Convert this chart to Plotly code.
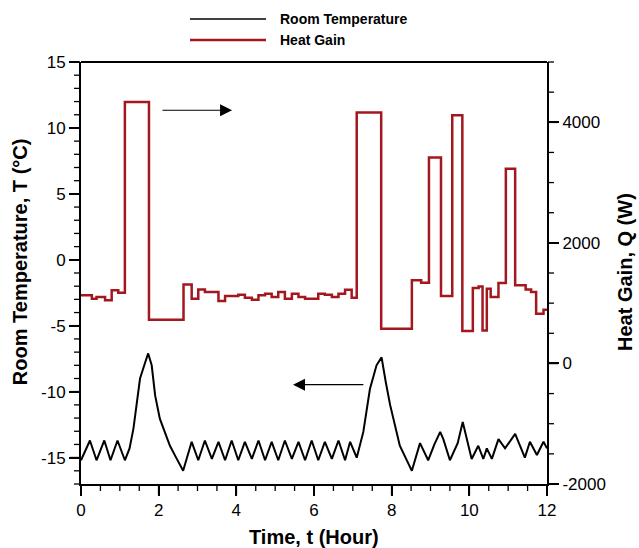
import plotly.graph_objects as go

# ---- Data ----
# Room temperature (°C) vs time (hour)
temp_t = [0.00, 0.23, 0.40, 0.60, 0.76, 0.94, 1.13, 1.25, 1.35, 1.52, 1.65, 1.73,
          1.82, 1.91, 2.03, 2.29, 2.45, 2.63,
          2.85, 3.02, 3.19, 3.37, 3.54, 3.71, 3.88, 4.05, 4.22, 4.40, 4.57, 4.74,
          4.91, 5.08, 5.25, 5.43, 5.60, 5.77, 5.94, 6.11, 6.28, 6.46, 6.63, 6.80,
          6.93, 7.10, 7.27, 7.44, 7.61, 7.74, 7.85, 7.96, 8.21, 8.52,
          8.73, 8.94, 9.10, 9.25, 9.33, 9.50, 9.70, 9.83, 10.06, 10.23, 10.36,
          10.45, 10.58, 10.75, 10.92, 11.18, 11.43, 11.56, 11.74, 11.91, 12.00]
temp_v = [-15.2, -13.7, -15.2, -13.7, -15.2, -13.7, -15.2, -14.3, -12.8, -9.0, -7.8, -7.1,
          -8.0, -10.3, -12.05, -14.1, -15.0, -16.0,
          -13.8, -15.2, -13.7, -15.1, -13.8, -15.2, -13.7, -15.2, -13.8, -15.1, -13.7, -15.2,
          -13.8, -15.2, -13.7, -15.1, -13.8, -15.2, -13.7, -15.2, -13.8, -15.1, -13.7, -15.2,
          -13.8, -15.0, -13.05, -9.8, -8.0, -7.4, -9.3, -11.0, -14.1, -16.0,
          -13.9, -15.2, -14.0, -13.05, -13.6, -15.2, -13.9, -12.3, -15.1, -14.1, -15.1,
          -14.3, -15.1, -13.6, -14.3, -13.2, -15.0, -13.8, -14.8, -13.8, -14.3]

# Heat gain (W): step function, value holds from each start time
heat_t = [0.00, 0.28, 0.40, 0.62, 0.79, 0.96, 1.13, 1.75, 2.64, 2.85, 3.02, 3.19,
          3.54, 3.71, 4.05, 4.22, 4.40, 4.57, 4.74, 4.91, 5.08, 5.25, 5.43, 5.60,
          5.77, 6.11, 6.28, 6.46, 6.63, 6.80, 6.97, 7.10, 7.73, 8.52, 8.76, 8.96,
          9.27, 9.56, 9.82, 10.09, 10.24, 10.34, 10.45, 10.55, 10.75, 10.94, 11.18,
          11.45, 11.59, 11.72, 11.91, 12.00]
heat_v = [1129, 1074, 1100, 1046, 1212, 1173, 4337, 725, 1311, 1074, 1228, 1183,
          1034, 1117, 1140, 1090, 1057, 1129, 1157, 1100, 1183, 1074, 1157, 1100,
          1074, 1157, 1140, 1100, 1157, 1223, 1090, 4161, 576, 1378, 1339, 3414,
          1117, 4116, 536, 1250, 1278, 548, 1240, 1100, 1333, 3231, 1295,
          1228, 1183, 825, 891, 891]

x_ticks = [0, 2, 4, 6, 8, 10, 12]
x_labels = ["0", "2", "4", "6", "8", "10", "12"]
t_ticks = [-15, -10, -5, 0, 5, 10, 15]
t_labels = ["-15", "-10", "-5", "0", "5", "10", "15"]
q_ticks = [-2000, 0, 2000, 4000]
q_labels = ["-2000", "0", "2000", "4000"]

X_RANGE = [0, 12]
T_RANGE = [-17, 15]
Q_RANGE = [-2000, 5000]

x_minor = [v * 0.5 for v in range(0, 25) if v % 4 != 0]
t_minor = [v for v in range(-17, 16) if v % 5 != 0]
q_minor = [v for v in range(-2000, 5001, 500) if v % 2000 != 0]

RED = "#A3171F"
FONT = "Liberation Sans, Arial, sans-serif"

W, H = 639, 548
ML, MR, MT, MB = 81, 92, 62, 64
PW, PH = W - ML - MR, H - MT - MB

fig = go.Figure()
fig.add_trace(go.Scatter(x=temp_t, y=temp_v, mode="lines", name="Room Temperature",
                         line=dict(color="black", width=2), showlegend=False))
fig.add_trace(go.Scatter(x=heat_t, y=heat_v, mode="lines", name="Heat Gain", yaxis="y2",
                         line=dict(color=RED, width=2.5, shape="hv"), showlegend=False))

axis_common = dict(showline=True, linecolor="black", linewidth=2, ticks="outside",
                   ticklen=10, tickwidth=1.5, tickcolor="black", showgrid=False,
                   zeroline=False, tickmode="array",
                   tickfont=dict(family=FONT, size=17))

fig.update_layout(
    width=W, height=H,
    margin=dict(l=ML, r=MR, t=MT, b=MB),
    plot_bgcolor="white",
    font=dict(color="black"),
    xaxis=dict(range=X_RANGE, tickvals=x_ticks, ticktext=x_labels, **axis_common),
    yaxis=dict(range=T_RANGE, tickvals=t_ticks, ticktext=t_labels, **axis_common),
    yaxis2=dict(range=Q_RANGE, tickvals=q_ticks, ticktext=q_labels,
                overlaying="y", side="right", **axis_common),
    showlegend=False,
)

# Top frame line
fig.add_shape(type="line", xref="paper", yref="paper", x0=0, x1=1, y0=1, y1=1,
              line=dict(color="black", width=2), layer="above")


# Tick marks (major and minor) drawn explicitly as well
def frac(v, rng):
    return (v - rng[0]) / (rng[1] - rng[0])


def tick_shapes(vals, rng, side, length, width):
    for v in vals:
        p = frac(v, rng)
        if side == "bottom":
            d = dict(x0=p, x1=p, y0=-1 / PH, y1=-(length + 1) / PH)
        elif side == "left":
            d = dict(y0=p, y1=p, x0=-1 / PW, x1=-(length + 1) / PW)
        else:
            d = dict(y0=p, y1=p, x0=1 + 1 / PW, x1=1 + (length + 1) / PW)
        fig.add_shape(type="line", xref="paper", yref="paper", layer="above",
                      line=dict(color="black", width=width), **d)


tick_shapes(x_ticks, X_RANGE, "bottom", 10, 1.6)
tick_shapes(x_minor, X_RANGE, "bottom", 6, 1.3)
tick_shapes(t_ticks, T_RANGE, "left", 10, 1.6)
tick_shapes(t_minor, T_RANGE, "left", 6, 1.3)
tick_shapes(q_ticks, Q_RANGE, "right", 10, 1.6)
tick_shapes(q_minor, Q_RANGE, "right", 6, 1.3)

title_font = dict(family=FONT, size=20, color="black", weight="bold")
fig.add_annotation(text="Time, t (Hour)", xref="paper", yref="paper", x=0.5, y=-0.126,
                   showarrow=False, font=title_font, yanchor="middle")
fig.add_annotation(text="Room Temperature, T (°C)", xref="paper", yref="paper", x=-0.131, y=0.528,
                   showarrow=False, font=title_font, textangle=-90, xanchor="center", yanchor="middle")
fig.add_annotation(text="Heat Gain, Q (W)", xref="paper", yref="paper", x=1.167, y=0.502,
                   showarrow=False, font=title_font, textangle=-90, xanchor="center", yanchor="middle")

# Direction arrows
fig.add_annotation(x=3.89, y=11.34, ax=2.06, ay=11.34, xref="x", yref="y", axref="x", ayref="y",
                   showarrow=True, arrowhead=2, arrowsize=2, arrowwidth=1.2, arrowcolor="black", text="")
fig.add_annotation(x=5.46, y=-9.47, ax=7.31, ay=-9.47, xref="x", yref="y", axref="x", ayref="y",
                   showarrow=True, arrowhead=2, arrowsize=2, arrowwidth=1.2, arrowcolor="black", text="")

# Manual legend
legend_items = [("Room Temperature", "black", 1.5, 1.102), ("Heat Gain", RED, 2.5, 1.052)]
for label, color, w, yy in legend_items:
    fig.add_shape(type="line", xref="paper", yref="paper", x0=(190 - ML) / PW, x1=(266 - ML) / PW,
                  y0=yy, y1=yy, line=dict(color=color, width=w))
    fig.add_annotation(text=label, xref="paper", yref="paper", x=(278 - ML) / PW, y=yy,
                       xanchor="left", yanchor="middle", showarrow=False,
                       font=dict(family=FONT, size=14, color="black", weight="bold"))

fig.write_html("out.html")
